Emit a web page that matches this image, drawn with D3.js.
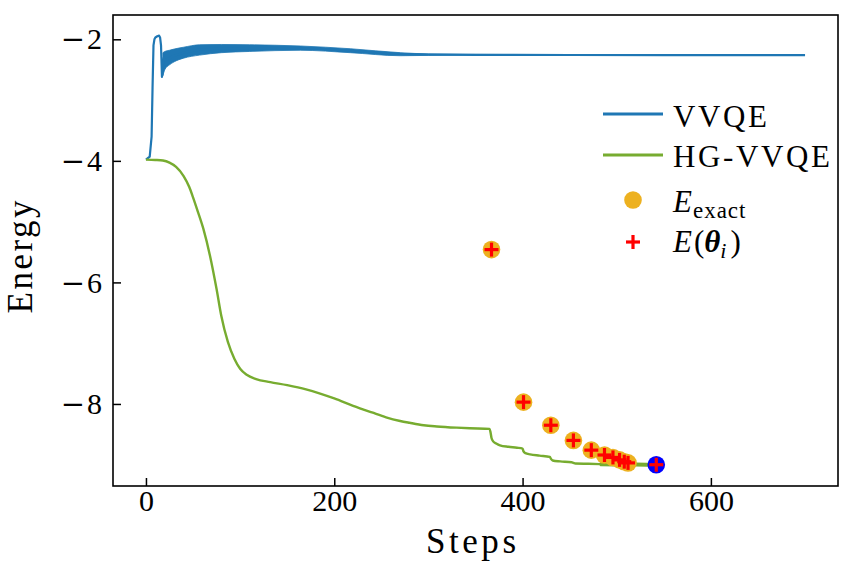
<!DOCTYPE html>
<html><head><meta charset="utf-8">
<script src="https://cdn.jsdelivr.net/npm/d3@7"></script>
<style>
body{margin:0;background:#fff}
svg{display:block}
text{font-family:"Liberation Serif","DejaVu Serif",serif;fill:#000}
</style>
</head><body>
<svg id="chart" width="854" height="565"></svg>
<script>
// ---------------- data ----------------
const vvqeSteps  = [0, 4, 6, 7, 8, 9, 10, 12, 14, 15, 16, 17, 18, 19, 20, 25, 30, 40, 57, 80, 110, 164, 190, 217, 245, 270, 300, 350, 390, 450, 550, 700];
const vvqeEnergy = [-3.98, -3.93, -3.6, -2.8, -2.1, -2.0, -1.97, -1.95, -1.94, -1.97, -2.1, -2.62, -2.45, -2.3, -2.35, -2.31, -2.27, -2.22, -2.17, -2.15, -2.145, -2.145, -2.16, -2.19, -2.215, -2.24, -2.25, -2.255, -2.255, -2.258, -2.26, -2.26];
// envelope of the fast oscillation of VVQE
const bandSteps = [18, 20, 25, 30, 40, 57, 80, 110, 164, 217, 270, 300, 380];
const bandUpper = [-2.22, -2.2, -2.18, -2.16, -2.13, -2.09, -2.085, -2.09, -2.11, -2.155, -2.22, -2.24, -2.25];
const bandLower = [-2.6, -2.5, -2.42, -2.37, -2.31, -2.26, -2.22, -2.2, -2.18, -2.22, -2.27, -2.265, -2.26];

const hgSteps  = [0, 10, 18, 25, 32, 40, 46, 50, 55, 61, 68, 75, 80, 87, 94, 100, 107, 117, 132, 150, 170, 185, 200, 220, 240, 255, 270, 280, 295, 309, 330, 344, 365, 366, 367, 369, 372, 376, 385, 394, 400, 401, 403, 408, 418, 429, 430, 432, 440, 452, 454, 456, 470, 482, 500, 520, 542];
const hgEnergy = [-3.98, -3.985, -3.995, -4.03, -4.1, -4.25, -4.43, -4.6, -4.83, -5.12, -5.56, -6.11, -6.55, -6.98, -7.26, -7.42, -7.52, -7.59, -7.64, -7.69, -7.76, -7.83, -7.91, -8.03, -8.14, -8.22, -8.28, -8.31, -8.35, -8.37, -8.39, -8.40, -8.41, -8.47, -8.56, -8.62, -8.65, -8.68, -8.705, -8.72, -8.735, -8.78, -8.81, -8.83, -8.85, -8.87, -8.9, -8.93, -8.945, -8.96, -8.97, -8.98, -8.985, -8.99, -8.995, -8.998, -9.0];
// final plateau segment of HG-VVQE (drawn heavier in the original)
const hgTailSteps  = [482, 500, 520, 542];
const hgTailEnergy = [-8.99, -8.995, -8.998, -9.0];

const exactSteps  = [367, 401, 430, 454, 473, 487, 496, 503, 508, 512];
const exactEnergy = [-5.46, -7.97, -8.35, -8.60, -8.76, -8.84, -8.88, -8.92, -8.95, -8.97];
const thetaEnergy = [-5.46, -7.97, -8.35, -8.60, -8.76, -8.84, -8.88, -8.92, -8.95, -8.97];
const finalSteps  = [542];
const finalEnergy = [-9.0];

const xTicks = [0, 200, 400, 600];
const yTicks = [-2, -4, -6, -8];
const xLimits = [-35, 735];
const yLimits = [-9.35, -1.6];

// ---------------- layout ----------------
const svg = d3.select("#chart");
const M = {left:113, right:838, top:15, bottom:486};
const x = d3.scaleLinear().domain(xLimits).range([M.left, M.right]);
const y = d3.scaleLinear().domain(yLimits).range([M.bottom, M.top]);

const C = {blue:"#1f77b4", green:"#77ac30", orange:"#edb120", red:"#ff0000", dot:"#0000ff"};

const plot = svg.append("g");
plot.append("clipPath").attr("id","clip").append("rect")
  .attr("x",M.left).attr("y",M.top).attr("width",M.right-M.left).attr("height",M.bottom-M.top);
const g = plot.append("g").attr("clip-path","url(#clip)");

// VVQE band + line
const bandData = bandSteps.map((s,i)=>({s, u:bandUpper[i], l:bandLower[i]}));
g.append("path").datum(bandData)
  .attr("d", d3.area().x(d=>x(d.s)).y0(d=>y(d.l)).y1(d=>y(d.u)).curve(d3.curveMonotoneX))
  .attr("fill", C.blue).attr("stroke", C.blue).attr("stroke-width", 0.8);
g.append("path").datum(vvqeSteps.map((s,i)=>[s, vvqeEnergy[i]]))
  .attr("d", d3.line().x(d=>x(d[0])).y(d=>y(d[1])))
  .attr("fill","none").attr("stroke",C.blue).attr("stroke-width",2.2).attr("stroke-linejoin","round");

// HG-VVQE
const hgLine = d3.line().x(d=>x(d[0])).y(d=>y(d[1])).curve(d3.curveMonotoneX);
g.append("path").datum(hgSteps.map((s,i)=>[s, hgEnergy[i]]))
  .attr("d", hgLine)
  .attr("fill","none").attr("stroke",C.green).attr("stroke-width",2.4).attr("stroke-linejoin","round");
g.append("path").datum(hgTailSteps.map((s,i)=>[s, hgTailEnergy[i]]))
  .attr("d", hgLine)
  .attr("fill","none").attr("stroke",C.green).attr("stroke-width",4);

// markers
function plus(sel, cx, cy){
  const h = 7;
  sel.append("line").attr("x1",cx-h).attr("x2",cx+h).attr("y1",cy).attr("y2",cy)
    .attr("stroke",C.red).attr("stroke-width",3.2);
  sel.append("line").attr("x1",cx).attr("x2",cx).attr("y1",cy-h).attr("y2",cy+h)
    .attr("stroke",C.red).attr("stroke-width",3.2);
}
const mk = svg.append("g");
exactSteps.forEach((s,i)=>{
  mk.append("circle").attr("cx",x(s)).attr("cy",y(exactEnergy[i])).attr("r",8.8).attr("fill",C.orange);
});
finalSteps.forEach((s,i)=>{
  mk.append("circle").attr("cx",x(s)).attr("cy",y(finalEnergy[i])).attr("r",8.8).attr("fill",C.dot);
});
exactSteps.forEach((s,i)=> plus(mk, x(s), y(thetaEnergy[i])));
finalSteps.forEach((s,i)=> plus(mk, x(s), y(finalEnergy[i])));

// ---------------- axes ----------------
const xAxis = d3.axisBottom(x).tickValues(xTicks).tickSizeInner(-8).tickSizeOuter(0).tickPadding(4);
const yAxis = d3.axisLeft(y).tickValues(yTicks).tickSizeInner(-8).tickSizeOuter(0).tickPadding(11);
const gx = svg.append("g").attr("transform",`translate(0,${M.bottom})`).call(xAxis);
const gy = svg.append("g").attr("transform",`translate(${M.left},0)`).call(yAxis);
[gx,gy].forEach(a=>{
  a.select(".domain").remove();
  a.selectAll(".tick line").attr("stroke","#000").attr("stroke-width",1.5);
  a.selectAll(".tick text").attr("font-size",30).attr("font-family","Liberation Serif, serif").attr("fill","#000");
});
// minus sign drawn wide, as in the TeX original
gy.selectAll(".tick text").each(function(d){
  const t = d3.select(this).text("");
  if (d < 0) t.append("tspan").attr("font-family","DejaVu Sans").attr("font-size",29).attr("dx",0).text("\u2212");
  t.append("tspan").attr("dx",d < 0 ? 2 : 0).text(Math.abs(d));
});
svg.append("rect").attr("x",M.left).attr("y",M.top).attr("width",M.right-M.left).attr("height",M.bottom-M.top)
  .attr("fill","none").attr("stroke","#000").attr("stroke-width",1.6);

svg.append("text").attr("x",471).attr("y",553).attr("text-anchor","middle")
  .attr("font-size",35).attr("textLength",90).attr("lengthAdjust","spacing").text("Steps");
svg.append("text").attr("transform","translate(32,257) rotate(-90)").attr("text-anchor","middle")
  .attr("font-size",35).attr("textLength",113).attr("lengthAdjust","spacing").text("Energy");

// ---------------- legend ----------------
const lg = svg.append("g");
const lx0 = 603, lx1 = 663, tx = 673;
lg.append("line").attr("x1",lx0).attr("x2",lx1).attr("y1",114).attr("y2",114).attr("stroke",C.blue).attr("stroke-width",3);
lg.append("text").attr("x",tx).attr("y",127).attr("font-size",31).attr("textLength",94).attr("lengthAdjust","spacing").text("VVQE");
lg.append("line").attr("x1",lx0).attr("x2",lx1).attr("y1",155).attr("y2",155).attr("stroke",C.green).attr("stroke-width",3);
lg.append("text").attr("x",tx).attr("y",167).attr("font-size",31).attr("textLength",157).attr("lengthAdjust","spacing").text("HG-VVQE");
lg.append("circle").attr("cx",633).attr("cy",200).attr("r",8.8).attr("fill",C.orange);
const t3 = lg.append("text").attr("x",tx).attr("y",212).attr("font-size",31);
t3.append("tspan").attr("font-style","italic").text("E");
t3.append("tspan").attr("font-size",23).attr("dy",6).attr("dx",1).attr("letter-spacing",1).text("exact");
plus(lg, 633, 242);
const t4 = lg.append("text").attr("x",tx).attr("y",252).attr("font-size",31);
t4.append("tspan").attr("font-style","italic").text("E");
t4.append("tspan").attr("dx",2).text("(");
t4.append("tspan").attr("font-style","italic").attr("font-weight","bold").text("θ");
t4.append("tspan").attr("font-style","italic").attr("font-size",22).attr("dy",6).text("i");
t4.append("tspan").attr("dy",-6).attr("dx",4).text(")");
</script>
</body></html>
